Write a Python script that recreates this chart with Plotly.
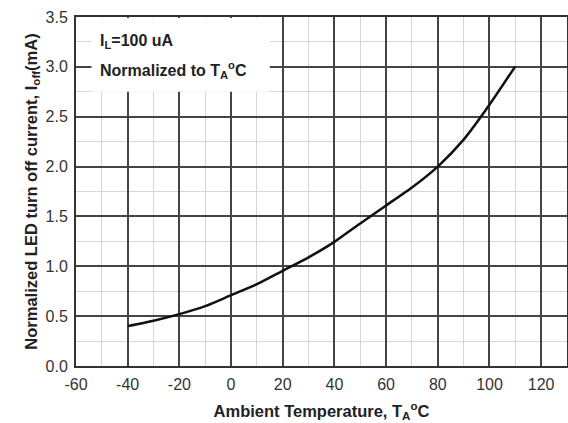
import plotly.graph_objects as go

temps = [-40, -30, -20, -10, 0, 10, 20, 30, 40, 50, 60, 70, 80, 90, 100, 110]
ioff_norm = [0.40, 0.454, 0.52, 0.60, 0.71, 0.82, 0.955, 1.09, 1.245, 1.43, 1.61, 1.79, 2.0, 2.27, 2.62, 3.005]

x_ticks = [-60, -40, -20, 0, 20, 40, 60, 80, 100, 120]
y_ticks = [0.0, 0.5, 1.0, 1.5, 2.0, 2.5, 3.0, 3.5]

FONT = "Liberation Sans, Arial, sans-serif"

fig = go.Figure()
fig.add_trace(go.Scatter(x=temps, y=ioff_norm, mode="lines",
                         line=dict(color="#111111", width=2.5, shape="spline", smoothing=0.6),
                         showlegend=False, hoverinfo="skip"))

fig.update_layout(
    width=568, height=423,
    margin=dict(l=76, r=1, t=17, b=57),
    paper_bgcolor="white", plot_bgcolor="white",
    font=dict(family=FONT, size=16, color="#222"),
    xaxis=dict(range=[-60, 130], tickvals=x_ticks, ticktext=[str(v) for v in x_ticks],
               automargin=False, ticklabelstandoff=3,
               showgrid=True, gridcolor="#444", gridwidth=1.5,
               minor=dict(dtick=10, showgrid=True, gridcolor="#d6d6d6", gridwidth=1),
               showline=True, linecolor="#333", linewidth=2, mirror=True,
               zeroline=False, ticks="", tickfont=dict(size=16, color="#333"),
               title=dict(text="<b>Ambient Temperature, T<sub>A</sub><sup>o</sup>C</b>",
                          font=dict(size=16.5, color="#222"), standoff=13)),
    yaxis=dict(range=[0, 3.5], tickvals=y_ticks, ticktext=[f"{v:.1f}" for v in y_ticks],
               automargin=False, ticklabelstandoff=3,
               showgrid=True, gridcolor="#444", gridwidth=1.5,
               minor=dict(dtick=0.25, showgrid=True, gridcolor="#d6d6d6", gridwidth=1),
               showline=True, linecolor="#333", linewidth=2, mirror=True,
               zeroline=False, ticks="", tickfont=dict(size=16, color="#333"),
               title=dict(text="<b>Normalized LED turn off current, I<sub>off</sub>(mA)</b>",
                          font=dict(size=16.5, color="#222"), standoff=4)),
)

fig.add_shape(type="rect", xref="x", yref="y", x0=-54, x1=15, y0=2.75, y1=3.49,
              fillcolor="white", line=dict(width=0), layer="above")

fig.add_annotation(xref="paper", yref="paper", x=(98 - 76) / 491, y=1 - (42 - 17) / 349,
                   xanchor="left", yanchor="middle", showarrow=False,
                   text="<b>I<sub>L</sub>=100 uA</b>", font=dict(size=16, color="#222"))
fig.add_annotation(xref="paper", yref="paper", x=(98 - 76) / 491, y=1 - (70 - 17) / 349,
                   xanchor="left", yanchor="middle", showarrow=False,
                   text="<b>Normalized to T<sub>A</sub><sup>o</sup>C</b>", font=dict(size=16, color="#222"))

fig.write_html("out.html", config={"displayModeBar": False},
               post_script="document.body.style.margin='0px';document.body.style.overflow='hidden';")
